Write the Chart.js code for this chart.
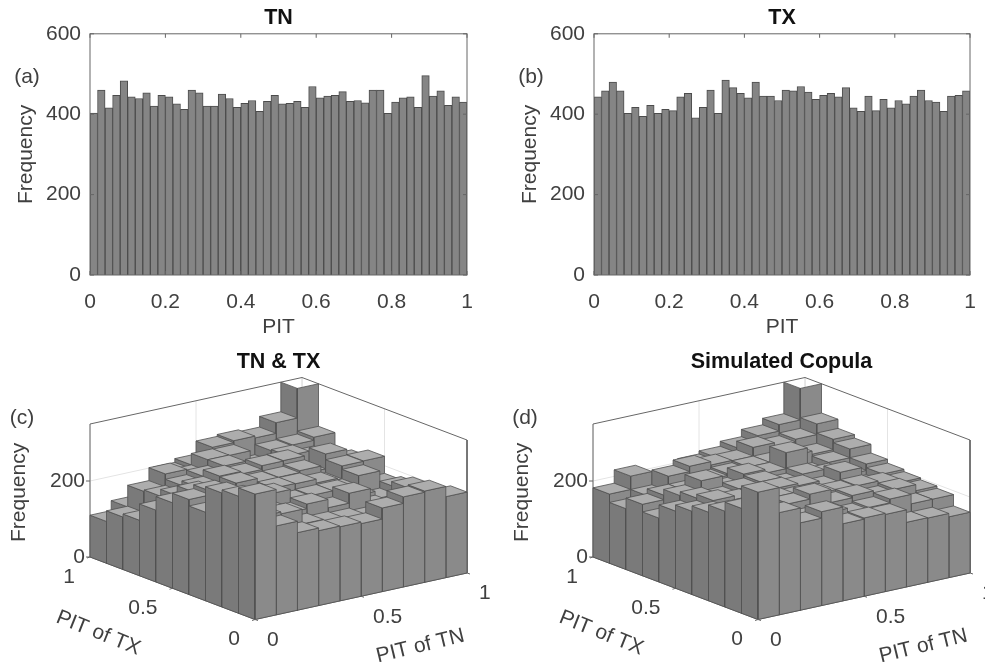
<!DOCTYPE html>
<html>
<head>
<meta charset="utf-8">
<title>PIT histograms</title>
<script src="https://cdn.jsdelivr.net/npm/chart.js@4"></script>
<style>
  html, body { margin: 0; padding: 0; background: #fff; }
  #page { position: relative; width: 985px; height: 666px; overflow: hidden; }
  .panel { position: absolute; width: 490px; filter: blur(0.45px); }
  .panel canvas { display: block; }
</style>
</head>
<body>
<div id="page">
  <div class="panel" style="left:0;top:0;height:340px"><canvas id="chartA" width="490" height="340"></canvas></div>
  <div class="panel" style="left:495px;top:0;height:340px"><canvas id="chartB" width="490" height="340"></canvas></div>
  <div class="panel" style="left:0;top:340px;height:326px"><canvas id="chartC" width="490" height="326"></canvas></div>
  <div class="panel" style="left:495px;top:340px;height:326px"><canvas id="chartD" width="490" height="326"></canvas></div>
</div>
<script>
// ── Data ─────────────────────────────────────────────────────────────────────
const tnFreq = [403,460,416,447,483,443,439,453,420,447,443,426,412,460,453,420,420,450,439,417,
  427,434,407,432,447,426,427,432,417,469,441,445,447,456,432,434,428,460,460,402,
  430,441,443,417,496,445,458,422,443,430];
const txFreq = [443,458,480,458,402,417,395,422,402,412,409,443,452,391,417,460,402,485,466,452,
  441,480,445,445,434,460,458,469,455,437,447,452,443,466,416,407,445,409,437,416,
  434,426,445,460,434,430,407,445,447,458];

// rows: PIT of TX bin 0..9, columns: PIT of TN bin 0..9
const tnTxCounts = [
  [330,234,204,197,195,191,220,237,240,213],
  [308,242,237,198,190,187,180,160,232,150],
  [300,242,230,210,222,200,226,180,150,170],
  [233,250,230,244,214,216,216,190,170,188],
  [250,260,225,220,231,230,220,190,215,180],
  [225,241,220,240,230,231,236,190,224,225],
  [189,215,225,242,235,245,246,200,239,209],
  [146,197,213,225,240,215,216,230,215,195],
  [138,193,227,210,240,239,200,227,230,238],
  [110,136,150,200,210,244,249,244,272,360]
];
const copulaCounts = [
  [335,269,230,247,203,206,203,170,169,160],
  [276,245,220,215,215,200,205,215,190,190],
  [252,220,225,235,248,214,220,205,212,196],
  [233,225,225,235,225,219,215,217,211,201],
  [219,235,225,225,231,225,210,236,189,207],
  [203,225,215,225,231,213,227,215,200,217],
  [168,215,242,210,235,225,267,200,217,240],
  [188,200,200,215,220,225,225,230,222,249],
  [160,182,221,235,226,225,248,238,245,273],
  [182,217,180,192,210,218,231,250,267,360]
];

const freqTicks3d = [0, 200];
const pitTicks3d = [0, 0.5, 1];
const Z_MAX = 350;

// ── Style ────────────────────────────────────────────────────────────────────
const TEXT = "#404040";
const FONT = '"Liberation Sans", Arial, sans-serif';
const FONT_SIZE = 21;
const TITLE_SIZE = 21.5;
const AXIS = "#666666";
const GRID = "#e4e4e4";
const EDGE = "#505050";
const BAR = "#858585";
const FACE_TN = "#8a8a8a";   // faces running along the TN axis
const FACE_TX = "#7a7a7a";   // faces running along the TX axis
const FACE_TOP = "#adadad";

Chart.defaults.font.family = FONT;
Chart.defaults.font.size = FONT_SIZE;
Chart.defaults.color = TEXT;
Chart.defaults.animation = false;

// ── 2D histograms ────────────────────────────────────────────────────────────
const boxPlugin = {
  id: "box",
  afterDatasetsDraw(chart, args, opts) {
    const { ctx, chartArea: a, scales: { x, y } } = chart;
    ctx.save();
    ctx.strokeStyle = AXIS;
    ctx.lineWidth = 1;
    ctx.strokeRect(a.left, a.top, a.right - a.left, a.bottom - a.top);
    ctx.beginPath();
    x.ticks.forEach(t => {
      const px = x.getPixelForValue(t.value);
      ctx.moveTo(px, a.top); ctx.lineTo(px, a.top + 4);
      ctx.moveTo(px, a.bottom); ctx.lineTo(px, a.bottom - 4);
    });
    y.ticks.forEach(t => {
      const py = y.getPixelForValue(t.value);
      ctx.moveTo(a.left, py); ctx.lineTo(a.left + 4, py);
      ctx.moveTo(a.right, py); ctx.lineTo(a.right - 4, py);
    });
    ctx.stroke();
    ctx.fillStyle = TEXT;
    ctx.font = `${FONT_SIZE}px ${FONT}`;
    ctx.textAlign = "center";
    ctx.textBaseline = "middle";
    ctx.fillText(opts.tag, opts.tagX, opts.tagY);
    ctx.restore();
  }
};

function makeHistogram(id, title, values, tag, tagX, leftWidth, rightPad, yTitlePad) {
  return new Chart(document.getElementById(id), {
    type: "bar",
    data: {
      datasets: [{
        data: values.map((v, i) => ({ x: (i + 0.5) / values.length, y: v })),
        backgroundColor: BAR,
        borderColor: "#4c4c4c",
        borderWidth: 1,
        barPercentage: 1,
        categoryPercentage: 1
      }]
    },
    options: {
      responsive: false,
      layout: { padding: { left: 0, right: rightPad, top: 0, bottom: 0 } },
      plugins: {
        legend: { display: false },
        tooltip: { enabled: false },
        title: {
          display: true, text: title, fullSize: false, color: "#111",
          font: { size: TITLE_SIZE, weight: "bold" },
          padding: { top: 5, bottom: 3 }
        },
        box: { tag, tagX, tagY: 77 }
      },
      scales: {
        x: {
          type: "linear", min: 0, max: 1, offset: false,
          grid: { display: false },
          border: { display: false },
          ticks: { stepSize: 0.2, maxRotation: 0, autoSkip: false, padding: 7, callback: v => String(+v.toFixed(1)) },
          title: { display: true, text: "PIT", padding: { top: 13, bottom: 0 } },
          afterFit: s => { s.height = 65; }
        },
        y: {
          min: 0, max: 600,
          grid: { display: false },
          border: { display: false },
          ticks: { stepSize: 200, padding: 1 },
          title: { display: true, text: "Frequency", padding: { top: yTitlePad, bottom: 0 } },
          afterFit: s => { s.width = leftWidth; }
        }
      }
    },
    plugins: [boxPlugin]
  });
}

makeHistogram("chartA", "TN", tnFreq, "(a)", 27, 90, 23, 14);
makeHistogram("chartB", "TX", txFreq, "(b)", 36, 99, 15, 23);

// ── 3D histograms (orthographic projection onto the chart's x / y scales) ────
const TN_RUN = 212, TN_RISE = 46.5;   // scale units across the whole TN axis
const TX_RUN = 165, TX_RISE = 62.5;   // scale units across the whole TX axis
const Z_UNIT = 0.38;                  // scale units per count

const project = (tn, tx, z) => ({
  x: tn * TN_RUN - tx * TX_RUN,
  y: tn * TN_RISE + tx * TX_RISE + z * Z_UNIT
});

function polygon(points, fillColor) {
  return {
    data: [...points, points[0]],
    showLine: true, fill: "shape", tension: 0,
    backgroundColor: fillColor, borderColor: EDGE, borderWidth: 0.8,
    pointRadius: 0, clip: false
  };
}
function polyline(points, color, width = 1) {
  return {
    data: points, showLine: true, fill: false, tension: 0,
    borderColor: color, borderWidth: width, pointRadius: 0, clip: false
  };
}

function barDatasets(counts) {
  const sets = [];
  const nTx = counts.length, nTn = counts[0].length;
  // first dataset is painted last, so go from the front corner to the back
  for (let j = 0; j < nTx; j++) {
    for (let i = 0; i < nTn; i++) {
      const h = Math.min(counts[j][i], Z_MAX);
      const t0 = i / nTn, t1 = (i + 1) / nTn, u0 = j / nTx, u1 = (j + 1) / nTx;
      if (counts[j][i] < Z_MAX) {
        sets.push(polygon([project(t0, u0, h), project(t1, u0, h), project(t1, u1, h), project(t0, u1, h)], FACE_TOP));
      }
      sets.push(polygon([project(t0, u0, 0), project(t1, u0, 0), project(t1, u0, h), project(t0, u0, h)], FACE_TN));
      sets.push(polygon([project(t0, u0, 0), project(t0, u1, 0), project(t0, u1, h), project(t0, u0, h)], FACE_TX));
    }
  }
  return sets;
}

function frameDatasets() {
  const sets = [];
  // outer box
  sets.push(polyline([project(0, 1, 0), project(0, 1, Z_MAX), project(1, 1, Z_MAX), project(1, 0, Z_MAX), project(1, 0, 0)], AXIS));
  sets.push(polyline([project(0, 1, 0), project(0, 0, 0), project(1, 0, 0)], AXIS));
  // grid on the back walls
  sets.push(polyline([project(1, 1, 0), project(1, 1, Z_MAX)], GRID));
  freqTicks3d.forEach(z => {
    sets.push(polyline([project(0, 1, z), project(1, 1, z), project(1, 0, z)], GRID));
  });
  pitTicks3d.forEach(p => {
    sets.push(polyline([project(p, 1, 0), project(p, 1, Z_MAX)], GRID));
    sets.push(polyline([project(1, p, 0), project(1, p, Z_MAX)], GRID));
  });
  return sets;
}

const label3dPlugin = {
  id: "labels3d",
  afterDatasetsDraw(chart, args, o) {
    const { ctx, scales: { x, y } } = chart;
    const at = p => ({ x: x.getPixelForValue(p.x), y: y.getPixelForValue(p.y) });
    const put = (text, px, py, align = "center", angle = 0, font = `${FONT_SIZE}px ${FONT}`, color = TEXT) => {
      ctx.save();
      ctx.translate(px, py);
      ctx.rotate(angle);
      ctx.font = font;
      ctx.fillStyle = color;
      ctx.textAlign = align;
      ctx.textBaseline = "middle";
      ctx.fillText(text, 0, 0);
      ctx.restore();
    };

    // little tick marks
    ctx.save();
    ctx.strokeStyle = AXIS;
    ctx.lineWidth = 1;
    ctx.beginPath();
    freqTicks3d.forEach(z => {
      const p = at(project(0, 1, z));
      ctx.moveTo(p.x, p.y); ctx.lineTo(p.x - 4, p.y);
      put(String(z), p.x - 5, p.y, "right");
    });
    pitTicks3d.forEach(v => {
      const a = at(project(v, 0, 0));
      ctx.moveTo(a.x, a.y); ctx.lineTo(a.x + 3, a.y + 1);
      const b = at(project(0, v, 0));
      ctx.moveTo(b.x, b.y); ctx.lineTo(b.x - 3, b.y + 1);
    });
    ctx.stroke();
    ctx.restore();

    // tick labels, offset from the ground edges
    pitTicks3d.forEach(v => {
      const a = at(project(v, 0, 0));
      put(String(v), a.x + 12, a.y + 20.5, "left");
      const b = at(project(0, v, 0));
      put(String(v), b.x - 15, b.y + 20, "right");
    });

    const tnAngle = Math.atan2(TN_RISE, TN_RUN) * -1.1;
    const txAngle = Math.atan2(TX_RISE, TX_RUN) * 1.05;
    const tnMid = at(project(0.78, 0, 0));
    const txMid = at(project(0, 0.95, 0));
    put("PIT of TN", tnMid.x, tnMid.y + 63, "center", tnAngle);
    put("PIT of TX", txMid.x, txMid.y + 73, "center", txAngle);

    const zTop = at(project(0, 1, Z_MAX));
    const zMid = at(project(0, 1, 170));
    put(o.tag, zTop.x - 68, zTop.y - 6);
    ctx.save();
    ctx.translate(zTop.x - 71, zMid.y);
    ctx.rotate(-Math.PI / 2);
    ctx.font = `${FONT_SIZE}px ${FONT}`;
    ctx.fillStyle = TEXT;
    ctx.textAlign = "center";
    ctx.textBaseline = "middle";
    ctx.fillText("Frequency", 0, 0);
    ctx.restore();
    put(o.title, (zTop.x + at(project(1, 0, 0)).x) / 2, 22, "center", 0, `bold ${TITLE_SIZE}px ${FONT}`, "#111");
  }
};

function makeBars3d(id, title, tag, counts, originX) {
  const width = 490, height = 326, originY = 279.5;
  return new Chart(document.getElementById(id), {
    type: "scatter",
    data: { datasets: [...barDatasets(counts), ...frameDatasets()] },
    options: {
      responsive: false,
      layout: { padding: 0 },
      plugins: {
        legend: { display: false },
        tooltip: { enabled: false },
        labels3d: { title, tag }
      },
      scales: {
        x: { type: "linear", display: false, min: -originX, max: width - originX },
        y: { type: "linear", display: false, min: originY - height, max: originY }
      }
    },
    plugins: [label3dPlugin]
  });
}

// ── Init ─────────────────────────────────────────────────────────────────────
makeBars3d("chartC", "TN & TX", "(c)", tnTxCounts, 255);
makeBars3d("chartD", "Simulated Copula", "(d)", copulaCounts, 263);
</script>
</body>
</html>
